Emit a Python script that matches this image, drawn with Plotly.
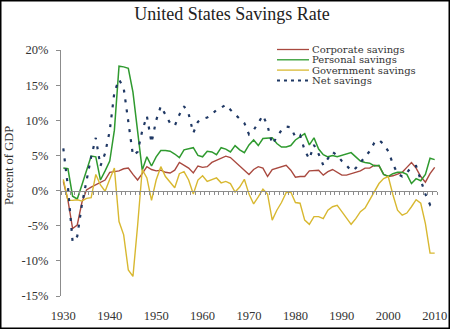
import plotly.graph_objects as go

years = list(range(1930, 2011))

corporate = [1.3, -1.4, -5.4, -4.9, -1.7, 0.1, 0.5, 0.8, 1.2, 1.5,
             2.6, 2.7, 2.8, 3.1, 3.2, 2.3, 1.5, 2.4, 3.4, 3.0,
             2.8, 2.9, 2.6, 2.5, 2.9, 4.0, 3.6, 3.2, 2.5, 3.5,
             3.3, 3.4, 4.0, 4.3, 4.5, 4.9, 4.7, 4.1, 3.6, 3.0,
             2.3, 3.0, 3.4, 3.2, 2.0, 3.0, 3.2, 3.4, 3.6, 2.9,
             1.9, 2.0, 2.0, 2.8, 2.9, 2.9, 2.2, 2.7, 3.0, 2.6,
             2.2, 2.2, 2.4, 2.5, 2.8, 3.2, 3.2, 3.6, 3.5, 2.3,
             2.0, 2.1, 2.4, 2.6, 3.3, 4.0, 3.2, 2.0, 1.2, 2.4, 3.3]

personal = [3.2, 3.1, -0.8, -1.2, 0.8, 2.9, 4.9, 4.8, 1.5, 2.8,
            4.2, 8.6, 17.7, 17.6, 17.4, 14.0, 8.2, 2.9, 4.8, 3.5,
            4.8, 5.7, 5.7, 5.6, 5.2, 4.7, 5.8, 6.0, 6.1, 5.0,
            4.8, 5.6, 5.5, 5.1, 6.1, 5.9, 5.5, 6.4, 5.8, 5.4,
            6.5, 7.2, 6.4, 7.4, 7.4, 7.5, 6.7, 6.2, 6.2, 6.4,
            7.2, 7.7, 8.1, 6.5, 7.5, 5.9, 5.1, 4.8, 5.0, 4.8,
            5.0, 5.3, 5.4, 4.8, 4.2, 4.0, 3.9, 3.5, 3.6, 2.3,
            2.0, 2.4, 2.6, 2.6, 2.3, 1.0, 1.7, 1.4, 2.3, 4.6, 4.4]

government = [1.6, -1.4, -1.4, -1.3, -1.5, -1.1, -1.0, 2.3, 0.8, -0.1,
              1.6, 3.2, -4.4, -6.3, -11.3, -12.2, -5.0, 3.0, 1.8, -1.4,
              1.5, 3.4, 2.0, 1.2, 0.4, 2.4, 2.7, 1.5, -0.5, 1.5,
              2.1, 1.3, 1.5, 1.8, 1.1, 1.3, 1.0, -0.2, 0.5, 1.6,
              -0.5, -1.9, -0.9, 0.2, -0.5, -4.2, -2.8, -1.7, -0.3, -0.2,
              -1.7, -1.8, -4.2, -4.8, -3.7, -3.7, -4.0, -2.8, -2.3, -2.1,
              -3.0, -3.9, -4.8, -4.0, -3.0, -2.5, -1.4, -0.2, 1.0, 1.7,
              2.0, -0.6, -2.8, -3.5, -3.2, -2.3, -1.3, -1.8, -4.7, -8.9, -8.9]

net = [6.0, 0.5, -7.3, -6.5, -2.0, 1.5, 4.8, 7.5, 3.5, 5.3,
       8.5, 14.0, 15.8, 14.6, 9.5, 5.0, 5.5, 8.5, 10.6, 6.8,
       10.0, 12.0, 10.8, 9.6, 9.2, 10.8, 12.0, 10.9, 8.2, 9.8,
       10.2, 10.4, 10.8, 11.5, 11.8, 12.2, 11.5, 10.8, 10.2, 9.6,
       8.0, 8.6, 9.6, 10.7, 9.2, 6.6, 7.6, 8.6, 9.1, 9.0,
       7.6, 7.9, 5.7, 4.5, 6.5, 5.2, 3.6, 4.5, 5.5, 5.0,
       4.2, 3.6, 2.8, 3.2, 4.0, 4.7, 5.6, 6.8, 7.2, 6.6,
       5.6, 3.8, 2.4, 2.0, 2.5, 3.4, 3.5, 1.5, -0.5, -2.0, -1.2]

x_ticks = [1930, 1940, 1950, 1960, 1970, 1980, 1990, 2000, 2010]
x_ticktext = ["1930", "1940", "1950", "1960", "1970", "1980", "1990", "2000", "2010"]
y_ticks = [-15, -10, -5, 0, 5, 10, 15, 20]
y_ticktext = ["-15%", "-10%", "-5%", "0%", "5%", "10%", "15%", "20%"]

series_names = ["Corporate savings", "Personal savings", "Government savings", "Net savings"]
colors = ["#a9493f", "#2f9a2f", "#d8b830", "#1f3864"]

W, H = 450, 329
L, R, T, B = 61, 13, 50, 33
pw, ph = W - L - R, H - T - B
FONT = "Liberation Serif"
LEG_FONT = "DejaVu Serif"


def px(x):
    return (x - L) / pw


def py(y):
    return 1 - (y - T) / ph


fig = go.Figure()
fig.add_trace(go.Scatter(x=years, y=corporate, mode="lines", name=series_names[0],
                         line=dict(color=colors[0], width=1.4)))
fig.add_trace(go.Scatter(x=years, y=personal, mode="lines", name=series_names[1],
                         line=dict(color=colors[1], width=1.5)))
fig.add_trace(go.Scatter(x=years, y=government, mode="lines", name=series_names[2],
                         line=dict(color=colors[2], width=1.4)))
fig.add_trace(go.Scatter(x=years, y=net, mode="lines", name=series_names[3], xaxis="x2",
                         line=dict(color=colors[3], width=2.2, dash="3px,7px")))

shapes = [dict(type="rect", xref="paper", yref="paper",
               x0=px(0.75), x1=px(449.25), y0=py(328.25), y1=py(0.75),
               line=dict(color="black", width=1.5), fillcolor="rgba(0,0,0,0)")]
annotations = []
rows = [49.5, 59.8, 70.1, 80.4]
for i, (nm, col) in enumerate(zip(series_names, colors)):
    shapes.append(dict(type="line", xref="paper", yref="paper",
                       x0=px(277), x1=px(309), y0=py(rows[i]), y1=py(rows[i]),
                       line=dict(color=col, width=2 if i == 3 else 1.3,
                                 dash="3px,4px" if i == 3 else "solid")))
    annotations.append(dict(text=nm, xref="paper", yref="paper", x=px(311), y=py(rows[i]),
                            xanchor="left", yanchor="middle", showarrow=False,
                            borderpad=0,
                            font=dict(family=LEG_FONT, size=10, color="#333333")))

annotations.append(dict(text="Percent of GDP", xref="paper", yref="paper",
                        x=px(9), y=py(166), xanchor="center", yanchor="middle",
                        textangle=-90, showarrow=False,
                        font=dict(family=FONT, size=12.5, color="#333333")))

fig.update_layout(
    width=W, height=H,
    margin=dict(l=L, r=R, t=T, b=B, pad=0),
    paper_bgcolor="white", plot_bgcolor="white",
    showlegend=False,
    title=dict(text="United States Savings Rate", x=232 / W, xanchor="center",
               y=1 - 13.5 / H, yanchor="middle",
               font=dict(family=FONT, size=18, color="#222222")),
    xaxis=dict(range=[1929.5, 2010.5], showgrid=False, zeroline=False, showline=False,
               automargin=False,
               tickvals=x_ticks, ticktext=x_ticktext, ticks="", ticklabelstandoff=10,
               tickfont=dict(family=FONT, size=12.5, color="#333333")),
    xaxis2=dict(range=[1929.5, 2010.5], overlaying="x", anchor="free", position=15 / 35,
                side="bottom", showgrid=False, zeroline=False, showline=True,
                automargin=False,
                linecolor="#8c8c8c", linewidth=1, ticks="outside", ticklen=3,
                tickcolor="#8c8c8c", tickwidth=1, tick0=1929.5, dtick=1,
                showticklabels=False),
    yaxis=dict(range=[-15, 20], showgrid=False, zeroline=False, showline=True,
               automargin=False,
               linecolor="#8c8c8c", linewidth=1, ticks="outside", ticklen=4,
               tickcolor="#8c8c8c", tickvals=y_ticks, ticktext=y_ticktext,
               ticklabelstandoff=5,
               tickfont=dict(family=FONT, size=12.5, color="#333333")),
    shapes=shapes,
    annotations=annotations,
)

fig.write_html("out.html")
